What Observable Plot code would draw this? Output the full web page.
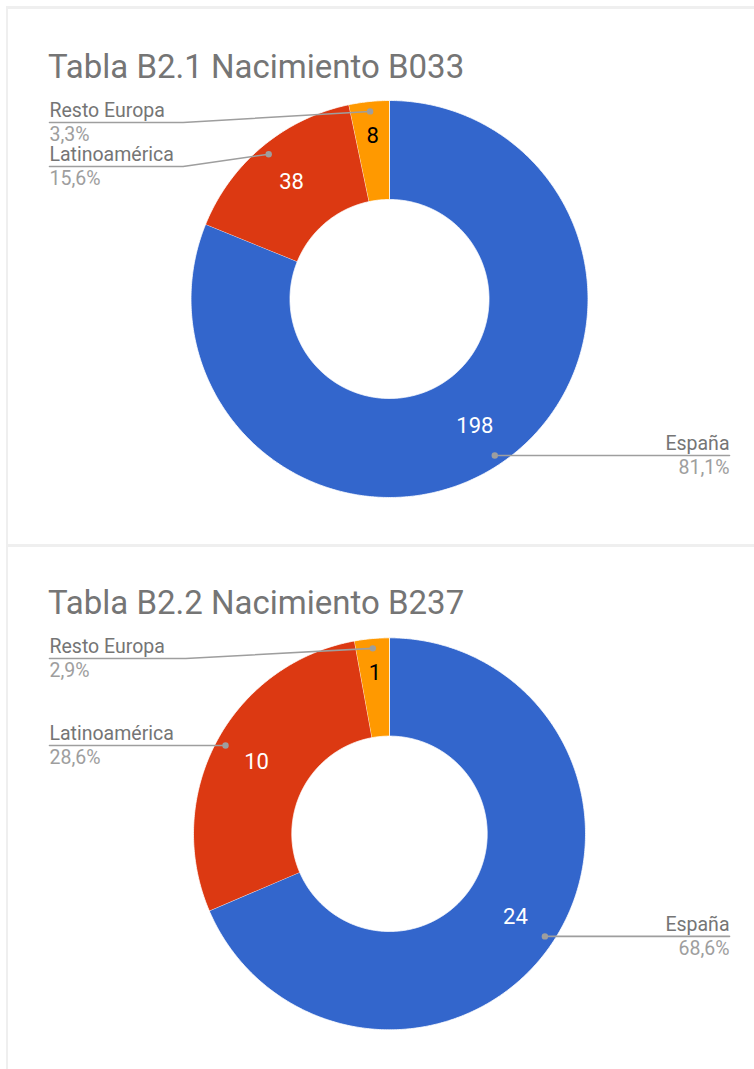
<!DOCTYPE html>
<html><head><meta charset="utf-8">
<script src="https://cdn.jsdelivr.net/npm/d3@7"></script>
<script src="https://cdn.jsdelivr.net/npm/@observablehq/plot@0.6"></script>
<style>
html,body{margin:0;padding:0;background:#fff;}
#page{position:relative;width:754px;height:1069px;overflow:hidden;font-family:Roboto,sans-serif;}
.border{position:absolute;background:#efefef;z-index:3;}
.title{position:absolute;left:48px;font-size:33px;line-height:33px;color:#757575;white-space:nowrap;z-index:2;font-family:Roboto,sans-serif;}
.panel{position:absolute;left:0;z-index:1;}
</style></head><body><div id="page"></div>
<script>
// ---- data ----
const categories = ["España", "Latinoamérica", "Resto Europa"];
const valuesB033 = [198, 38, 8];
const valuesB237 = [24, 10, 1];
const titles = ["Tabla B2.1 Nacimiento B033", "Tabla B2.2 Nacimiento B237"];

// ---- styles / layout ----
const colors = ["#3366cc", "#dc3912", "#ff9900"];
const darkValueText = ["Resto Europa"]; // slices whose value label is black
const panels = [
  {values: valuesB033, title: titles[0], top: 0,   height: 544, cx: 389, cy: 298.5, R: 198.5, r: 99.5, titleBase: 78},
  {values: valuesB237, title: titles[1], top: 546, height: 523, cx: 389, cy: 287.3, R: 196,   r: 97.7, titleBase: 68}
];
const labelLeftX = 49, labelRightX = 729, kneeFactor = 1.04, dotFactor = 0.95;
const labelGap = 44, titleToLabel = 44;
const valueRadius = 0.77, narrowValueRadius = 0.825, narrowShare = 0.05;

const page = document.getElementById("page");

function fmtPct(s) { return (s * 100).toFixed(1).replace(".", ",") + "%"; }

panels.forEach(p => {
  const total = d3.sum(p.values);
  let acc = 0;
  const slices = p.values.map((v, i) => {
    const a0 = acc / total * 2 * Math.PI; acc += v;
    const a1 = acc / total * 2 * Math.PI;
    return {cat: categories[i], value: v, share: v / total, a0, a1, mid: (a0 + a1) / 2};
  });
  const k = p.r / p.R;
  // ring polygons (unit coordinates, 0 at top, clockwise)
  const ring = [];
  slices.forEach(s => {
    const n = Math.max(2, Math.ceil((s.a1 - s.a0) / (Math.PI / 360)));
    for (let j = 0; j <= n; j++) { const a = s.a0 + (s.a1 - s.a0) * j / n; ring.push({cat: s.cat, x: Math.sin(a), y: -Math.cos(a)}); }
    for (let j = n; j >= 0; j--) { const a = s.a0 + (s.a1 - s.a0) * j / n; ring.push({cat: s.cat, x: k * Math.sin(a), y: -k * Math.cos(a)}); }
  });
  const valueLabels = slices.map(s => {
    const mr = s.share < narrowShare ? narrowValueRadius : valueRadius;
    return {cat: s.cat, text: String(s.value), x: mr * Math.sin(s.mid), y: -mr * Math.cos(s.mid)};
  });
  const dots = slices.map(s => ({cat: s.cat, share: s.share, x: dotFactor * Math.sin(s.mid), y: -dotFactor * Math.cos(s.mid)}));
  const ux = px => (px - p.cx) / p.R, uy = py => (py - p.cy) / p.R;
  // label layout per side
  const leaders = [], labelsL = [], labelsR = [];
  ["left", "right"].forEach(side => {
    const list = dots.filter(d => (side === "left") === (d.x < 0)).sort((a, b) => a.y - b.y);
    let prev = -Infinity;
    list.forEach(d => {
      const ly = Math.max(d.y, uy(p.titleBase + titleToLabel), prev + labelGap / p.R);
      prev = ly;
      const sign = side === "left" ? -1 : 1;
      const kx = sign * kneeFactor, ex = ux(side === "left" ? labelLeftX : labelRightX);
      leaders.push({cat: d.cat, x: d.x, y: d.y});
      if (sign * d.x < kneeFactor) leaders.push({cat: d.cat, x: kx, y: ly});
      leaders.push({cat: d.cat, x: ex, y: ly});
      (side === "left" ? labelsL : labelsR).push({cat: d.cat, pct: fmtPct(d.share), x: ex, y: ly});
    });
  });

  const txt = (data, anchor) => [
    Plot.text(data, {x: "x", y: "y", text: "cat", textAnchor: anchor, lineAnchor: "bottom", dy: -5.5, fill: "#757575", fontSize: 19.5}),
    Plot.text(data, {x: "x", y: "y", text: "pct", textAnchor: anchor, lineAnchor: "bottom", dy: 18.5, fill: "#9e9e9e", fontSize: 19.5})
  ];

  const chart = Plot.plot({
    width: 754, height: p.height, margin: 0,
    x: {domain: [-1, 1], range: [p.cx - p.R, p.cx + p.R], axis: null},
    y: {domain: [-1, 1], range: [p.cy - p.R, p.cy + p.R], axis: null},
    color: {domain: categories, range: colors},
    style: {fontFamily: "Roboto, sans-serif", background: "transparent", overflow: "visible"},
    marks: [
      Plot.line(ring, {x: "x", y: "y", z: "cat", fill: "cat", stroke: "white", strokeWidth: 0.8, curve: "linear"}),
      Plot.line(leaders, {x: "x", y: "y", z: "cat", stroke: "#9e9e9e", strokeWidth: 1.6, curve: "linear"}),
      Plot.dot(dots, {x: "x", y: "y", r: 3.2, fill: "#9e9e9e", stroke: "none"}),
      Plot.text(valueLabels.filter(d => !darkValueText.includes(d.cat)), {x: "x", y: "y", text: "text", fill: "#ffffff", fontSize: 22, lineAnchor: "middle"}),
      Plot.text(valueLabels.filter(d => darkValueText.includes(d.cat)), {x: "x", y: "y", text: "text", fill: "#000000", fontSize: 22, lineAnchor: "middle"}),
      ...txt(labelsL, "start"),
      ...txt(labelsR, "end")
    ]
  });
  const wrap = document.createElement("div");
  wrap.className = "panel";
  wrap.style.top = p.top + "px";
  wrap.appendChild(chart);
  page.appendChild(wrap);
  const t = document.createElement("div");
  t.className = "title";
  t.textContent = p.title;
  t.style.top = (p.top + p.titleBase - 27.8) + "px";
  page.appendChild(t);
});

// panel borders
[[6, 6, 748, 2.6], [6, 6, 2.4, 1063], [6, 544, 748, 2.6]].forEach(([l, t, w, h]) => {
  const b = document.createElement("div");
  b.className = "border";
  Object.assign(b.style, {left: l + "px", top: t + "px", width: w + "px", height: h + "px"});
  page.appendChild(b);
});
</script></body></html>
